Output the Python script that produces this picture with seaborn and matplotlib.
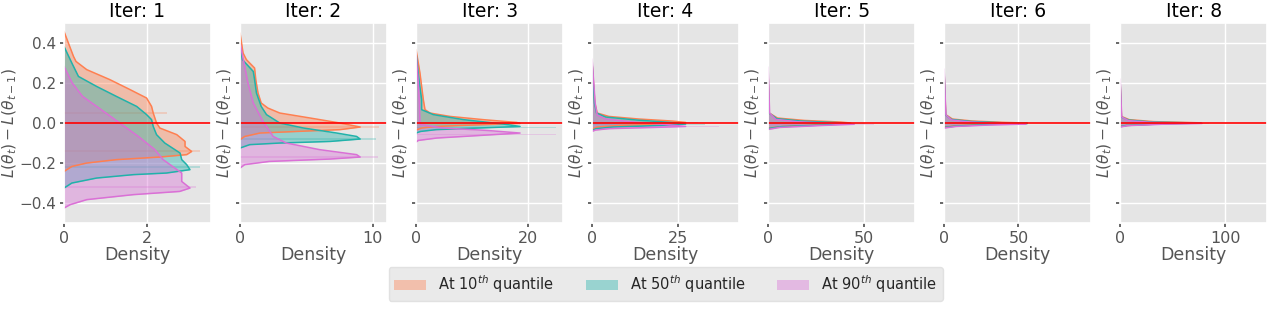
"""
Distribution of per-step loss change L(theta_t) - L(theta_{t-1})
at the 10th / 50th / 90th quantile, one panel per iteration.
"""

import pandas as pd
import matplotlib
matplotlib.use("Agg")
import matplotlib.pyplot as plt
from matplotlib.patches import Patch
import seaborn as sns

# ── Data ((loss diff, density) pairs) ────────────────────────────────────────
ITERS = [1, 2, 3, 4, 5, 6, 8]
QUANTILES = ["10", "50", "90"]
COLORS = ["coral", "lightseagreen", "orchid"]

XMAX = [3.56, 11.1, 26.3, 42.9, 76.5, 99.0, 140.0]
XTICKS = [[0, 2], [0, 10], [0, 20], [0, 25], [0, 50], [0, 50], [0, 100]]

it1_q10 = [(0.458, 0), (0.333, 0.23), (0.308, 0.29), (0.267, 0.55), (0.217, 1.11),
           (0.167, 1.6), (0.125, 2.0), (0.083, 2.12), (0.05, 2.16), (0.0, 2.24),
           (-0.025, 2.32), (-0.058, 2.73), (-0.092, 2.93), (-0.117, 2.93),
           (-0.142, 3.09), (-0.158, 2.97), (-0.17, 2.32), (-0.183, 1.27),
           (-0.2, 0.55), (-0.217, 0.19), (-0.242, 0)]
it1_q50 = [(0.383, 0), (0.3, 0.19), (0.233, 0.35), (0.183, 0.79), (0.133, 1.27),
           (0.083, 1.76), (0.042, 2.0), (0.017, 2.12), (-0.017, 2.16), (-0.058, 2.24),
           (-0.1, 2.44), (-0.15, 2.81), (-0.183, 2.85), (-0.208, 2.97),
           (-0.233, 3.05), (-0.25, 2.48), (-0.258, 1.68), (-0.275, 0.79),
           (-0.3, 0.19), (-0.325, 0)]
it1_q90 = [(0.283, 0), (0.2, 0.2), (0.133, 0.45), (0.067, 0.9), (0.0, 1.35),
           (-0.067, 1.8), (-0.133, 2.2), (-0.183, 2.4), (-0.25, 2.85), (-0.292, 2.85),
           (-0.325, 3.05), (-0.342, 2.8), (-0.358, 1.68), (-0.383, 0.55),
           (-0.408, 0.15), (-0.425, 0)]

it2_q10 = [(0.45, 0), (0.35, 0.23), (0.317, 0.48), (0.275, 1.1), (0.217, 1.19),
           (0.15, 1.36), (0.1, 1.6), (0.075, 2.1), (0.05, 3.0), (0.025, 5.3),
           (0.0, 7.55), (-0.02, 9.07), (-0.033, 7.55), (-0.042, 4.3),
           (-0.05, 1.5), (-0.067, 0.35), (-0.083, 0)]
it2_q50 = [(0.383, 0), (0.317, 0.18), (0.258, 1.0), (0.217, 1.1), (0.15, 1.24),
           (0.083, 1.6), (0.042, 2.0), (0.0, 3.0), (-0.025, 4.8), (-0.05, 7.3),
           (-0.067, 8.8), (-0.08, 9.07), (-0.092, 6.8), (-0.1, 3.0),
           (-0.108, 0.73), (-0.125, 0)]
it2_q90 = [(0.4, 0), (0.3, 0.3), (0.2, 0.6), (0.1, 1.0), (0.05, 1.4), (0.0, 1.8),
           (-0.017, 2.0), (-0.067, 2.5), (-0.1, 3.5), (-0.133, 6.0), (-0.158, 8.8),
           (-0.17, 9.07), (-0.18, 6.8), (-0.192, 2.2), (-0.208, 0.35), (-0.225, 0)]

it3_q10 = [(0.367, 0), (0.25, 0.7), (0.117, 1.3), (0.067, 1.6), (0.05, 2.5),
           (0.033, 6.1), (0.017, 12.0), (0.003, 18.0), (-0.002, 18.6),
           (-0.008, 12.0), (-0.017, 3.6), (-0.025, 1.0), (-0.035, 0)]
it3_q50 = [(0.35, 0), (0.2, 0.6), (0.117, 1.0), (0.067, 1.0), (0.042, 3.1),
           (0.017, 8.5), (-0.005, 15.6), (-0.017, 18.6), (-0.025, 11.0),
           (-0.033, 3.6), (-0.042, 0.8), (-0.05, 0)]
it3_q90 = [(0.35, 0), (0.2, 0.4), (0.1, 0.6), (0.0, 0.7), (-0.008, 0.9),
           (-0.025, 4.9), (-0.037, 12.7), (-0.05, 18.6), (-0.063, 10.9),
           (-0.075, 3.7), (-0.087, 0.4), (-0.095, 0)]

it4_q10 = [(0.3, 0), (0.1, 0.8), (0.05, 1.5), (0.033, 4.9), (0.02, 13.7),
           (0.01, 23.4), (0.003, 27.3), (-0.005, 22.0), (-0.012, 8.0),
           (-0.02, 1.5), (-0.03, 0)]
it4_q50 = [(0.3, 0), (0.1, 0.7), (0.05, 1.3), (0.03, 4.0), (0.015, 13.0),
           (0.003, 23.0), (-0.005, 27.3), (-0.012, 20.0), (-0.02, 6.0),
           (-0.028, 1.2), (-0.037, 0)]
it4_q90 = [(0.32, 0), (0.1, 0.9), (0.04, 1.5), (0.02, 4.0), (0.005, 12.0),
           (-0.008, 22.0), (-0.017, 27.3), (-0.022, 18.0), (-0.028, 5.0),
           (-0.035, 1.0), (-0.042, 0)]

it5_q10 = [(0.25, 0), (0.05, 0.6), (0.025, 4.9), (0.013, 18.8), (0.005, 37.8),
           (0.0, 43.0), (-0.008, 30.0), (-0.017, 8.0), (-0.025, 0)]
it5_q50 = [(0.25, 0), (0.05, 0.5), (0.022, 4.5), (0.01, 17.0), (0.002, 36.0),
           (-0.003, 43.0), (-0.01, 28.0), (-0.018, 7.0), (-0.027, 0)]
it5_q90 = [(0.28, 0), (0.05, 0.8), (0.018, 4.0), (0.006, 16.0), (-0.002, 35.0),
           (-0.006, 44.8), (-0.013, 26.0), (-0.022, 6.0), (-0.032, 0)]

it6_q10 = [(0.25, 0), (0.042, 1.1), (0.02, 5.6), (0.01, 19.0), (0.003, 41.5),
           (0.0, 56.0), (-0.005, 33.0), (-0.013, 9.0), (-0.02, 0)]
it6_q50 = [(0.25, 0), (0.04, 1.0), (0.018, 5.0), (0.008, 18.0), (0.001, 40.0),
           (-0.002, 56.0), (-0.007, 30.0), (-0.015, 8.0), (-0.022, 0)]
it6_q90 = [(0.27, 0), (0.04, 1.2), (0.015, 5.0), (0.005, 18.0), (-0.002, 40.0),
           (-0.005, 55.0), (-0.01, 30.0), (-0.017, 8.0), (-0.025, 0)]

it7_q10 = [(0.2, 0), (0.033, 1.3), (0.017, 8.6), (0.007, 32.0), (0.001, 77.0),
           (-0.003, 42.0), (-0.012, 7.0), (-0.017, 0)]
it7_q50 = [(0.2, 0), (0.03, 1.2), (0.015, 8.0), (0.005, 30.0), (0.0, 77.0),
           (-0.004, 40.0), (-0.012, 6.0), (-0.018, 0)]
it7_q90 = [(0.22, 0), (0.03, 1.5), (0.012, 8.0), (0.003, 30.0), (-0.002, 78.0),
           (-0.006, 40.0), (-0.013, 7.0), (-0.02, 0)]

CURVES = [
    [it1_q10, it1_q50, it1_q90],
    [it2_q10, it2_q50, it2_q90],
    [it3_q10, it3_q50, it3_q90],
    [it4_q10, it4_q50, it4_q90],
    [it5_q10, it5_q50, it5_q90],
    [it6_q10, it6_q50, it6_q90],
    [it7_q10, it7_q50, it7_q90],
]

# tallest histogram bins poking out past the KDE: (panel, quantile, bin centre, height)
hist_peaks = [
    (0, 0, -0.14, 3.3), (0, 0, 0.05, 2.5), (0, 1, -0.22, 3.3), (0, 2, -0.32, 3.2),
    (1, 0, -0.02, 10.5), (1, 1, -0.08, 10.3), (1, 2, -0.17, 10.4),
    (2, 0, -0.002, 22.0), (2, 1, -0.02, 25.0), (2, 2, -0.055, 25.0),
    (3, 0, 0.002, 31.0), (3, 1, -0.006, 33.0), (3, 2, -0.016, 37.0),
    (4, 2, -0.006, 55.0), (4, 1, -0.002, 50.0),
    (5, 2, -0.004, 62.0),
    (6, 2, -0.002, 85.0),
]
HIST_BINW = [0.012, 0.008, 0.005, 0.004, 0.003, 0.003, 0.003]

# ── Style ────────────────────────────────────────────────────────────────────
sns.set_theme(style="darkgrid", rc={
    "axes.facecolor": "#E5E5E5", "grid.color": "white", "grid.linewidth": 1.0,
    "axes.edgecolor": "white", "axes.labelcolor": "#555555",
    "xtick.color": "#555555", "ytick.color": "#555555",
    "xtick.bottom": True, "ytick.left": True,
    "xtick.major.size": 3, "ytick.major.size": 3,
    "xtick.major.pad": 2.5, "ytick.major.pad": 2.5,
    "xtick.labelsize": 11.5, "ytick.labelsize": 11,
    "axes.labelsize": 12.5, "axes.titlesize": 13.5,
})
plt.rcParams["font.family"] = ["DejaVu Sans"]

fig, axes = plt.subplots(1, 7, figsize=(12.8, 3.2), dpi=100)
fig.subplots_adjust(left=0.05, right=0.99, top=0.928, bottom=0.303, wspace=0.197)

peaks = pd.DataFrame(hist_peaks, columns=["panel", "q", "centre", "height"])

for i, ax in enumerate(axes):
    for k, (pts, color) in enumerate(zip(CURVES[i], COLORS)):
        hp = peaks[(peaks["panel"] == i) & (peaks["q"] == k)]
        if len(hp):
            ax.barh(hp["centre"], hp["height"], height=HIST_BINW[i],
                    color=color, alpha=0.25, lw=0)
        df = pd.DataFrame(pts, columns=["diff", "density"])
        ax.fill_betweenx(df["diff"], 0, df["density"], color=color, alpha=0.4, lw=0)
        sns.lineplot(data=df, x="density", y="diff", orient="y", sort=False,
                     estimator=None, color=color, lw=1.1, ax=ax)
    ax.axhline(0, color="red", lw=1.2)
    ax.set_xlim(0, XMAX[i])
    ax.set_xticks(XTICKS[i])
    ax.set_ylim(-0.5, 0.5)
    ax.set_yticks([-0.4, -0.2, 0.0, 0.2, 0.4])
    ax.set_title(f"Iter: {ITERS[i]}", color="black", pad=4)
    ax.set_xlabel("Density", labelpad=0)
    ax.set_ylabel(r"$L(\theta_t) - L(\theta_{t-1})$", fontsize=11.2, labelpad=1.5)
    if i > 0:
        ax.tick_params(axis="y", labelleft=False)

# first panel's label sits tight against its tick labels
axes[0].yaxis.set_label_coords(-0.305, 0.5)

handles = [Patch(facecolor=c, alpha=0.4, edgecolor="none") for c in COLORS]
labels = [rf"At ${q}^{{th}}$ quantile" for q in QUANTILES]
fig.legend(handles, labels, loc="center", bbox_to_anchor=(0.52, 0.112), ncol=3,
           fontsize=10.5, frameon=True, facecolor="#E5E5E5", edgecolor="#DDDDDD",
           columnspacing=2.2, handlelength=2.2)

fig.savefig("out.png", dpi=100)
